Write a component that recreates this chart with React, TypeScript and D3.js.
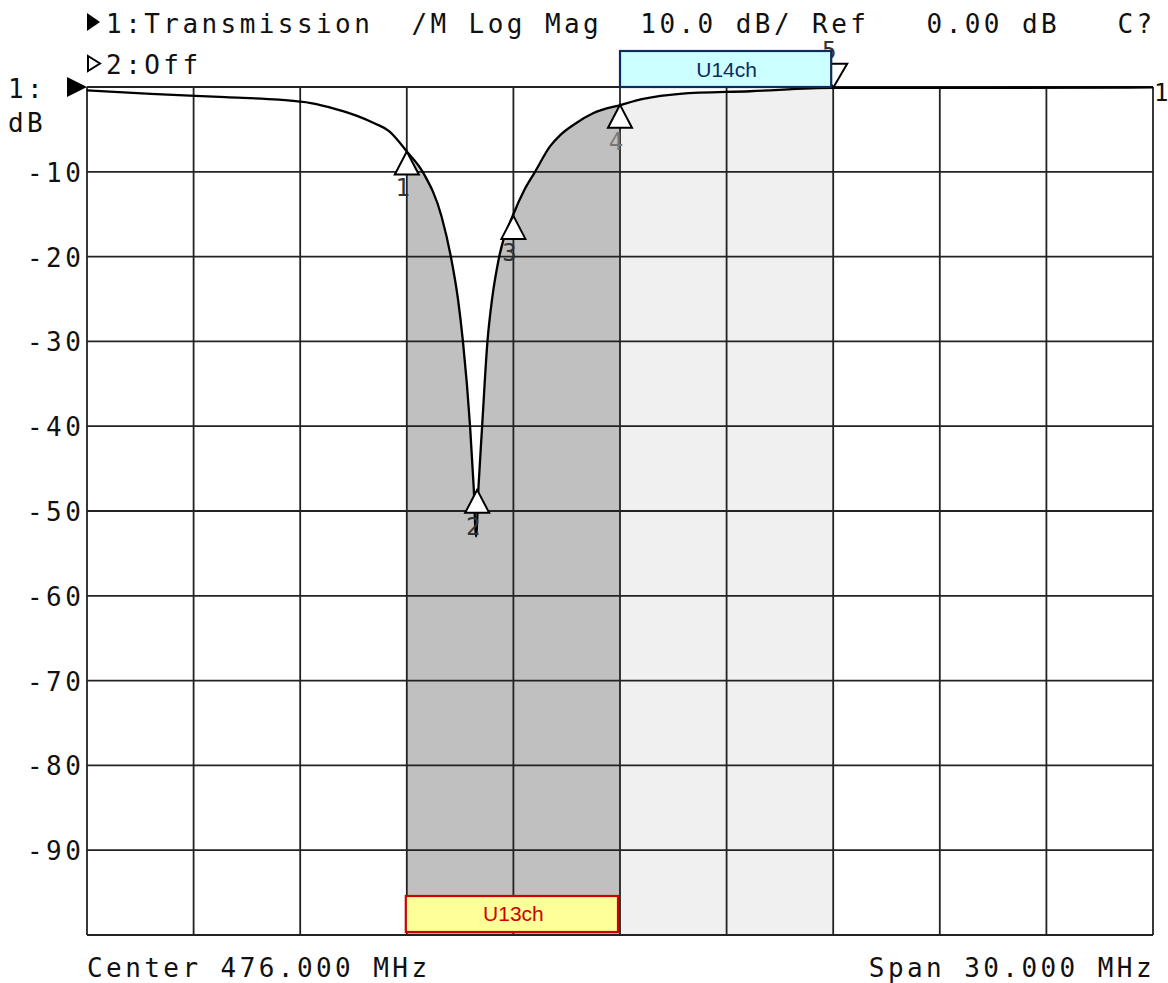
import React from "react";
import * as d3 from "d3";

// ---- data ----
const freqMHz = [461.0, 462.8, 464.9, 466.4, 467.3, 468.0, 468.6, 469.1, 469.5, 470.0, 470.46, 470.98, 471.24, 471.44, 471.58, 471.78, 471.88, 471.95, 472.02, 472.12, 472.27, 472.4, 472.6, 473.02, 473.3, 473.61, 474.03, 474.31, 474.75, 475.24, 476.03, 476.65, 477.69, 479.66, 482.0, 485.6, 491.0];
const traceDb = [-0.4, -0.8, -1.2, -1.5, -1.9, -2.6, -3.4, -4.3, -5.2, -7.6, -10.1, -15.3, -20, -25, -30, -40, -47, -53, -47, -40, -30, -25, -20, -14.8, -12.2, -10, -7.0, -5.7, -4.3, -3.1, -2.1, -1.4, -0.8, -0.5, -0.1, -0.1, -0.05];

const markerLabels = ["1", "2", "3", "4", "5"];
const markerFreq = [470.0, 471.98, 473.0, 476.0, 482.0];
const markerDb = [-7.6, -47.5, -15.2, -2.1, -0.1];

const channelNames = ["U13ch", "U14ch"];
const channelStart = [470, 476];
const channelEnd = [476, 482];

const yTicks = [-10, -20, -30, -40, -50, -60, -70, -80, -90];
const headerLine1 = "1:Transmission  /M Log Mag  10.0 dB/ Ref   0.00 dB   C?";
const headerLine2 = "2:Off";
const centerLabel = "Center 476.000 MHz";
const spanLabel = "Span 30.000 MHz";

const fMin = 461, fMax = 491, dbTop = 0, dbBottom = -100;

const MONO = "'DejaVu Sans Mono', monospace";
const PITCH = 19.08;
const FS = 26;
const LS = PITCH - 0.602 * FS;

export default function App() {
  const W = 1168, H = 983;
  const L = 87, R = 1153, T = 87, B = 935;
  const x = d3.scaleLinear().domain([fMin, fMax]).range([L, R]);
  const y = d3.scaleLinear().domain([dbTop, dbBottom]).range([T, B]);

  const pts = freqMHz.map((f, i) => [f, traceDb[i]] as [number, number]);
  const line = d3.line<[number, number]>().x(d => x(d[0])).y(d => y(d[1])).curve(d3.curveMonotoneX);
  const area = d3.area<[number, number]>().x(d => x(d[0])).y0(y(dbBottom)).y1(d => y(d[1])).curve(d3.curveMonotoneX);

  const vTicks = d3.range(fMin, fMax + 0.001, 3);
  const hTicks = d3.range(dbTop, dbBottom - 0.001, -10);

  const txt = (s: string, px: number, py: number, extra: any = {}) => (
    <text x={px} y={py} fontFamily={MONO} fontSize={FS} letterSpacing={LS} fill="#111" style={{ whiteSpace: "pre" }} {...extra}>{s}</text>
  );

  const triW = 24, triH = 23;

  return (
    <svg width={W} height={H} style={{ position: "absolute", left: 0, top: 0, background: "#fff" }}>
      <defs>
        <clipPath id="c13"><rect x={x(channelStart[0])} y={T} width={x(channelEnd[0]) - x(channelStart[0])} height={B - T} /></clipPath>
        <clipPath id="c14"><rect x={x(channelStart[1])} y={T} width={x(channelEnd[1]) - x(channelStart[1])} height={B - T} /></clipPath>
      </defs>
      <rect x={0} y={0} width={W} height={H} fill="#fff" />
      {/* fills */}
      <path d={area(pts) || ""} fill="#c0c0c0" clipPath="url(#c13)" />
      <path d={area(pts) || ""} fill="#f0f0f0" clipPath="url(#c14)" />
      {/* grid */}
      {vTicks.map(f => <line key={"v" + f} x1={x(f)} x2={x(f)} y1={T} y2={B} stroke="#222" strokeWidth={1.8} />)}
      {hTicks.map(v => <line key={"h" + v} x1={L} x2={R} y1={y(v)} y2={y(v)} stroke="#222" strokeWidth={1.8} />)}
      {/* trace */}
      <path d={line(pts) || ""} fill="none" stroke="#000" strokeWidth={2.3} />
      {/* markers */}
      {markerLabels.map((m, i) => {
        const mx = x(markerFreq[i]);
        const my = y(markerDb[i]);
        if (m === "5") {
          return (
            <g key={m}>
              <path d={`M${mx},${my} L${mx - 14},${my - 24} L${mx + 14},${my - 24} Z`} fill="#fff" stroke="#000" strokeWidth={2} />
              <text x={mx - 4} y={my - 29} textAnchor="middle" fontFamily={MONO} fontSize={24} fill="#333">{m}</text>
            </g>
          );
        }
        return (
          <g key={m}>
            <path d={`M${mx},${my} L${mx - triW / 2},${my + triH} L${mx + triW / 2},${my + triH} Z`} fill="#fff" stroke="#000" strokeWidth={2} />
            <text x={mx - 4} y={my + triH + 22} textAnchor="middle" fontFamily={MONO} fontSize={24} fill={m === "4" ? "#777" : "#333"}>{m}</text>
          </g>
        );
      })}
      {/* channel boxes */}
      <g>
        <rect x={x(channelStart[0]) - 1} y={896} width={x(channelEnd[0]) - x(channelStart[0]) - 1} height={36} fill="#ffff99" stroke="#cc0000" strokeWidth={2.2} />
        <text x={(x(channelStart[0]) + x(channelEnd[0])) / 2} y={921} textAnchor="middle" fontFamily="'Liberation Sans', Arial, sans-serif" fontSize={21} fill="#cc0000">{channelNames[0]}</text>
        <rect x={x(channelStart[1])} y={51} width={x(channelEnd[1]) - x(channelStart[1]) - 2} height={36} fill="#ccffff" stroke="#0d2b5e" strokeWidth={2.2} />
        <text x={(x(channelStart[1]) + x(channelEnd[1])) / 2} y={77} textAnchor="middle" fontFamily="'Liberation Sans', Arial, sans-serif" fontSize={21} fill="#0d2b5e">{channelNames[1]}</text>
      </g>
      {/* header */}
      <path d="M87,13 L100,22 L87,31 Z" fill="#000" />
      {txt(headerLine1, L + PITCH, 33)}
      <path d="M88,56 L100,63.5 L88,71 Z" fill="none" stroke="#000" strokeWidth={2} />
      {txt(headerLine2, L + PITCH, 74)}
      {/* reference marker left */}
      <path d={`M67,${T - 10} L${L},${T} L67,${T + 10} Z`} fill="#000" />
      {txt("1:", 8, 98)}
      {txt("dB", 8, 132)}
      {yTicks.map(v => txt(String(v), 27, y(v) + 10, { key: "t" + v }))}
      {/* right reference */}
      <text x={1154} y={101} fontFamily={MONO} fontSize={24} fill="#111">1</text>
      {/* footer */}
      {txt(centerLabel, L, 977)}
      {txt(spanLabel, R - spanLabel.length * PITCH + 2, 977)}
    </svg>
  );
}
